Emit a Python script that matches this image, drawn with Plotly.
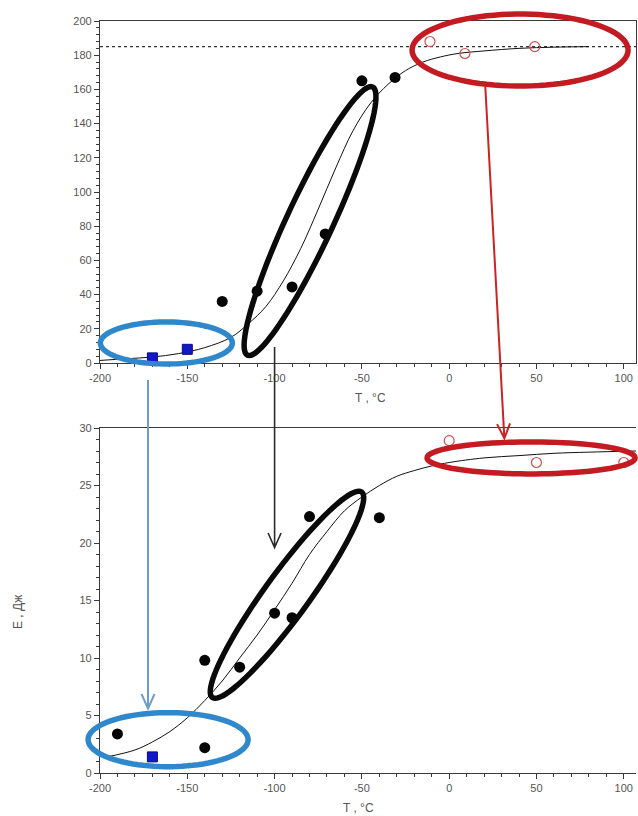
import math
import plotly.graph_objects as go

# ---------------- data ----------------
# top panel
top_sq_T = [-170, -150]
top_sq_E = [3, 8]
top_dot_T = [-130, -110, -90, -71, -50, -31]
top_dot_E = [36, 42, 44.5, 75.5, 165, 167]
top_open_T = [-11, 9, 49]
top_open_E = [188, 181, 185]
top_curve_T = [-200, -185, -170, -155, -140, -125, -115, -105, -95, -85, -75, -65,
               -55, -45, -35, -25, -15, -5, 5, 20, 40, 60, 80]
top_curve_E = [1.5, 2.5, 3.5, 5.5, 9, 15, 23, 33, 48, 67, 90, 114,
               136, 152, 163, 171, 176, 179, 181, 182.5, 184, 184.7, 185]
top_plateau = 185

# bottom panel
bot_sq_T = [-170]
bot_sq_E = [1.4]
bot_dot_T = [-190, -140, -140, -120, -100, -90, -80, -40]
bot_dot_E = [3.4, 2.2, 9.8, 9.2, 13.9, 13.5, 22.3, 22.2]
bot_open_T = [0, 50, 100]
bot_open_E = [28.9, 27.0, 27.0]
bot_curve_T = [-196, -180, -170, -160, -150, -140, -130, -120, -110, -100, -90, -80,
               -70, -60, -50, -40, -30, -20, -10, 0, 20, 40, 60, 80, 107]
bot_curve_E = [1.4, 2.0, 2.7, 3.6, 4.8, 6.3, 8.0, 10.0, 12.0, 14.2, 16.5, 19.0,
               21.0, 22.8, 24.0, 25.0, 25.8, 26.3, 26.7, 27.0, 27.4, 27.6, 27.8, 27.9, 28.0]

x_tick_vals = [-200, -150, -100, -50, 0, 50, 100]
x_tick_text = ["-200", "-150", "-100", "-50", "0", "50", "100"]
top_y_ticks = [0, 20, 40, 60, 80, 100, 120, 140, 160, 180, 200]
bot_y_ticks = [0, 5, 10, 15, 20, 25, 30]
x_title = "T , °C"
y_title = "E , Дж"

# ---------------- geometry ----------------
W, H = 638, 816
ML, MR, MT, MB = 100, 2, 21, 43
PW = W - ML - MR
PH = H - MT - MB
XR = [-200, 107]
TOP_RANGE = [0, 200]
BOT_RANGE = [0, 30]
TOP_PX = (21, 363)     # top / bottom pixel of upper panel
BOT_PX = (428, 773)    # top / bottom pixel of lower panel
top_dom = [(H - MB - TOP_PX[1]) / PH, (H - MB - TOP_PX[0]) / PH]
bot_dom = [(H - MB - BOT_PX[1]) / PH, (H - MB - BOT_PX[0]) / PH]


def px_x(x):
    return ML + (x - XR[0]) / (XR[1] - XR[0]) * PW


def px_y(y, panel):
    if panel == "top":
        lo, hi = TOP_RANGE
        return TOP_PX[1] - (y - lo) / (hi - lo) * (TOP_PX[1] - TOP_PX[0])
    lo, hi = BOT_RANGE
    return BOT_PX[1] - (y - lo) / (hi - lo) * (BOT_PX[1] - BOT_PX[0])


def paper(px, py):
    return (px - ML) / PW, (H - MB - py) / PH


def ellipse_shape(cx, cy, panel, a, b, ang, color, width):
    cxp, cyp = px_x(cx), px_y(cy, panel)
    t = math.radians(ang)
    ux, uy = math.cos(t), -math.sin(t)
    vx, vy = math.sin(t), math.cos(t)
    pts = []
    n = 90
    for k in range(n):
        th = 2 * math.pi * k / n
        ex, ey = a * math.cos(th), b * math.sin(th)
        pts.append(paper(cxp + ex * ux + ey * vx, cyp + ex * uy + ey * vy))
    path = "M " + " L ".join(f"{p[0]:.5f},{p[1]:.5f}" for p in pts) + " Z"
    return dict(type="path", xref="paper", yref="paper", path=path,
                line=dict(color=color, width=width), layer="above")


def arrow_shapes(p0, p1, color, width, head=16, spread=24):
    (x0, y0, pa0), (x1, y1, pa1) = p0, p1
    X0, Y0 = px_x(x0), px_y(y0, pa0)
    X1, Y1 = px_x(x1), px_y(y1, pa1)
    dx, dy = X1 - X0, Y1 - Y0
    L = math.hypot(dx, dy)
    ux, uy = dx / L, dy / L
    s = math.radians(spread)
    arms = []
    for sg in (1, -1):
        c, sn = math.cos(sg * s), math.sin(sg * s)
        rx, ry = -(ux * c - uy * sn), -(ux * sn + uy * c)
        arms.append((X1 + head * rx, Y1 + head * ry))
    a0, a1 = paper(X0, Y0), paper(X1, Y1)
    h0, h1 = paper(*arms[0]), paper(*arms[1])
    path = (f"M {a0[0]:.5f},{a0[1]:.5f} L {a1[0]:.5f},{a1[1]:.5f} "
            f"M {h0[0]:.5f},{h0[1]:.5f} L {a1[0]:.5f},{a1[1]:.5f} L {h1[0]:.5f},{h1[1]:.5f}")
    return dict(type="path", xref="paper", yref="paper", path=path,
                line=dict(color=color, width=width), layer="above")


BLUE_E = "#2F88CC"
RED_E = "#C41A22"
BLACK_E = "#0a0a0a"

fig = go.Figure()

# ---------------- top panel ----------------
fig.add_trace(go.Scatter(x=[XR[0], XR[1]], y=[top_plateau, top_plateau], mode="lines",
                         line=dict(color="#333333", width=1.3, dash="dot"),
                         xaxis="x", yaxis="y", showlegend=False))
fig.add_trace(go.Scatter(x=top_curve_T, y=top_curve_E, mode="lines",
                         line=dict(color="#111111", width=1, shape="spline"),
                         xaxis="x", yaxis="y", showlegend=False))
fig.add_trace(go.Scatter(x=top_sq_T, y=top_sq_E, mode="markers",
                         marker=dict(symbol="square", size=10, color="#1018C8",
                                     line=dict(color="#0a0a80", width=1)),
                         xaxis="x", yaxis="y", showlegend=False))
fig.add_trace(go.Scatter(x=top_dot_T, y=top_dot_E, mode="markers",
                         marker=dict(symbol="circle", size=11, color="#050505"),
                         xaxis="x", yaxis="y", showlegend=False))
fig.add_trace(go.Scatter(x=top_open_T, y=top_open_E, mode="markers",
                         marker=dict(symbol="circle-open", size=10, color="#D05050",
                                     line=dict(width=1.2)),
                         xaxis="x", yaxis="y", showlegend=False))

# ---------------- bottom panel ----------------
fig.add_trace(go.Scatter(x=bot_curve_T, y=bot_curve_E, mode="lines",
                         line=dict(color="#111111", width=1, shape="spline"),
                         xaxis="x2", yaxis="y2", showlegend=False))
fig.add_trace(go.Scatter(x=bot_sq_T, y=bot_sq_E, mode="markers",
                         marker=dict(symbol="square", size=10, color="#1018C8",
                                     line=dict(color="#0a0a80", width=1)),
                         xaxis="x2", yaxis="y2", showlegend=False))
fig.add_trace(go.Scatter(x=bot_dot_T, y=bot_dot_E, mode="markers",
                         marker=dict(symbol="circle", size=11, color="#050505"),
                         xaxis="x2", yaxis="y2", showlegend=False))
fig.add_trace(go.Scatter(x=bot_open_T, y=bot_open_E, mode="markers",
                         marker=dict(symbol="circle-open", size=10, color="#D05050",
                                     line=dict(width=1.2)),
                         xaxis="x2", yaxis="y2", showlegend=False))

tick_font = dict(family="Liberation Sans, Arial, sans-serif", size=11, color="#555555")
axis_common = dict(showgrid=False, zeroline=False, showline=True, linecolor="#3a3a3a",
                   linewidth=1.2, ticks="outside", ticklen=5, tickwidth=1,
                   tickcolor="#3a3a3a", tickfont=tick_font)

xa = dict(axis_common, range=XR, tickmode="array", tickvals=x_tick_vals,
          ticktext=x_tick_text, mirror=True,
          minor=dict(dtick=10, ticks="outside", ticklen=3, tickcolor="#3a3a3a"))

shapes = [
    ellipse_shape(-162, 11.7, "top", 66, 21, 0, BLUE_E, 5.5),
    ellipse_shape(-79.7, 83, "top", 148, 23, 65, BLACK_E, 5.5),
    ellipse_shape(40.6, 183, "top", 108, 36, 0, RED_E, 5.5),
    ellipse_shape(-161, 2.9, "bot", 80, 27, 0, BLUE_E, 5.5),
    ellipse_shape(-92.9, 15.5, "bot", 127, 22, 54, BLACK_E, 5.5),
    ellipse_shape(46.9, 27.4, "bot", 104, 16, 0, RED_E, 5.5),
    arrow_shapes((-100, 9.4, "top"), (-100, 19.6, "bot"), "#2b2b2b", 1.6),
    arrow_shapes((-172.5, -10, "top"), (-172.5, 5.6, "bot"), "#6E9CCB", 2),
    arrow_shapes((20.7, 161.4, "top"), (31.6, 29.1, "bot"), "#CC2424", 2),
]

title_font = dict(family="Liberation Sans, Arial, sans-serif", size=12, color="#555555")
tx1, ty1 = paper(370, 398)
tx2, ty2 = paper(358, 808)
tx3, ty3 = paper(18, 612)
annotations = [
    dict(text=x_title, x=tx1, y=ty1, xref="paper", yref="paper", showarrow=False,
         font=title_font, xanchor="center", yanchor="middle"),
    dict(text=x_title, x=tx2, y=ty2, xref="paper", yref="paper", showarrow=False,
         font=title_font, xanchor="center", yanchor="middle"),
    dict(text=y_title, x=tx3, y=ty3, xref="paper", yref="paper", showarrow=False,
         font=title_font, xanchor="center", yanchor="middle", textangle=-90),
]

fig.update_layout(
    width=W, height=H,
    margin=dict(l=ML, r=MR, t=MT, b=MB),
    paper_bgcolor="white", plot_bgcolor="white",
    showlegend=False,
    xaxis=dict(xa, domain=[0, 1], anchor="y"),
    yaxis=dict(axis_common, range=TOP_RANGE, domain=top_dom, anchor="x",
               tickmode="array", tickvals=top_y_ticks, mirror=True,
               minor=dict(dtick=4, ticks="outside", ticklen=3, tickcolor="#3a3a3a")),
    xaxis2=dict(xa, domain=[0, 1], anchor="y2"),
    yaxis2=dict(axis_common, range=BOT_RANGE, domain=bot_dom, anchor="x2",
                tickmode="array", tickvals=bot_y_ticks,
                minor=dict(dtick=1, ticks="outside", ticklen=3, tickcolor="#3a3a3a")),
    shapes=shapes,
    annotations=annotations,
)

fig.write_html(
    "out.html",
    config={"displayModeBar": False},
    post_script="document.body.style.margin='0';document.body.style.overflow='hidden';",
)
